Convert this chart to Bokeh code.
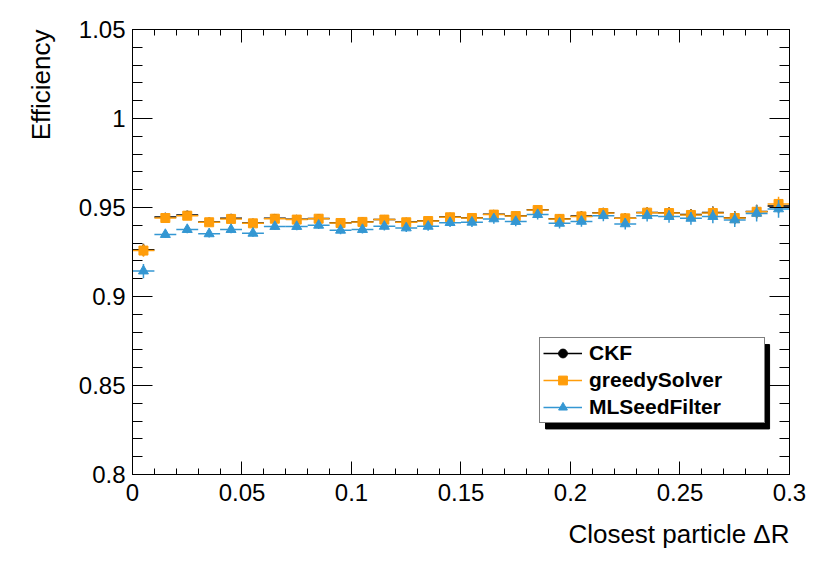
from bokeh.plotting import figure
from bokeh.models import (ColumnDataSource, LinearAxis, SingleIntervalTicker, CustomJSTickFormatter,
                          Legend, LegendItem, Title, BoxAnnotation, Range1d)
from bokeh.embed import file_html
from bokeh.resources import INLINE

# ---------------- data ----------------
bin_edges = [0.00, 0.01, 0.02, 0.03, 0.04, 0.05, 0.06, 0.07, 0.08, 0.09, 0.10,
             0.11, 0.12, 0.13, 0.14, 0.15, 0.16, 0.17, 0.18, 0.19, 0.20,
             0.21, 0.22, 0.23, 0.24, 0.25, 0.26, 0.27, 0.28, 0.29, 0.30]

ckf_eff = [0.9262, 0.9446, 0.9458, 0.9419, 0.9440, 0.9413, 0.9439, 0.9434, 0.9438, 0.9414,
           0.9420, 0.9433, 0.9418, 0.9425, 0.9446, 0.9442, 0.9462, 0.9453, 0.9488, 0.9437,
           0.9452, 0.9471, 0.9440, 0.9472, 0.9471, 0.9460, 0.9472, 0.9443, 0.9478, 0.9508]
ckf_err = [0.0035, 0.0018, 0.0018, 0.0018, 0.0018, 0.0018, 0.0018, 0.0018, 0.0019, 0.0019,
           0.0020, 0.0020, 0.0021, 0.0021, 0.0022, 0.0023, 0.0024, 0.0025, 0.0025, 0.0026,
           0.0027, 0.0028, 0.0029, 0.0030, 0.0031, 0.0032, 0.0034, 0.0036, 0.0038, 0.0040]

greedy_eff = [0.9258, 0.9441, 0.9454, 0.9417, 0.9436, 0.9411, 0.9437, 0.9432, 0.9437, 0.9413,
              0.9419, 0.9432, 0.9417, 0.9424, 0.9445, 0.9441, 0.9460, 0.9452, 0.9486, 0.9436,
              0.9450, 0.9469, 0.9439, 0.9471, 0.9469, 0.9458, 0.9469, 0.9441, 0.9476, 0.9520]
greedy_err = [0.0035, 0.0018, 0.0018, 0.0018, 0.0018, 0.0018, 0.0018, 0.0018, 0.0019, 0.0019,
              0.0020, 0.0020, 0.0021, 0.0021, 0.0022, 0.0023, 0.0024, 0.0025, 0.0025, 0.0026,
              0.0027, 0.0028, 0.0029, 0.0030, 0.0031, 0.0032, 0.0034, 0.0036, 0.0038, 0.0040]

ml_eff = [0.9143, 0.9348, 0.9376, 0.9352, 0.9376, 0.9355, 0.9393, 0.9393, 0.9400, 0.9372,
          0.9376, 0.9394, 0.9385, 0.9394, 0.9415, 0.9417, 0.9436, 0.9421, 0.9460, 0.9411,
          0.9422, 0.9454, 0.9408, 0.9454, 0.9449, 0.9439, 0.9449, 0.9430, 0.9467, 0.9492]
ml_err = [0.0040, 0.0020, 0.0020, 0.0020, 0.0020, 0.0020, 0.0020, 0.0021, 0.0021, 0.0022,
          0.0022, 0.0023, 0.0023, 0.0024, 0.0025, 0.0026, 0.0027, 0.0027, 0.0028, 0.0029,
          0.0030, 0.0031, 0.0032, 0.0033, 0.0035, 0.0036, 0.0038, 0.0040, 0.0045, 0.0050]

series_names = ["CKF", "greedySolver", "MLSeedFilter"]
series_colors = ["#000000", "#ff9d0a", "#3497d3"]
series_markers = ["circle", "square", "triangle"]

x_title = "Closest particle \u0394R"
y_title = "Efficiency"

# ---------------- figure ----------------
FONT = "Liberation Sans"

p = figure(width=822, height=564, x_range=Range1d(0.0, 0.300001), y_range=Range1d(0.8, 1.050001),
           output_backend="svg", toolbar_location=None,
           min_border_left=132, min_border_right=33, min_border_top=29, min_border_bottom=90)
p.grid.grid_line_color = None
p.outline_line_color = "black"
p.outline_line_width = 1
p.background_fill_color = "white"
p.border_fill_color = "white"

fmt = CustomJSTickFormatter(code="return parseFloat(tick.toFixed(4)).toString();")
blank = CustomJSTickFormatter(code="return '';")


def style_axis(ax, tick_len, labels=True):
    ax.ticker = SingleIntervalTicker(interval=0.05, num_minor_ticks=5)
    ax.formatter = fmt if labels else blank
    ax.major_tick_in = tick_len
    ax.major_tick_out = 0
    ax.minor_tick_in = tick_len // 2
    ax.minor_tick_out = 0
    ax.axis_line_color = "black"
    ax.major_tick_line_color = "black"
    ax.minor_tick_line_color = "black"
    ax.major_label_text_font = FONT
    ax.major_label_text_font_size = "24px"
    ax.major_label_text_color = "black"
    ax.major_label_text_font_style = "normal"


xax = p.xaxis[0]
yax = p.yaxis[0]
style_axis(xax, 13)
style_axis(yax, 20)
xax.major_label_standoff = 9
yax.major_label_standoff = 7

top_ax = LinearAxis()
style_axis(top_ax, 13, labels=False)
right_ax = LinearAxis()
style_axis(right_ax, 20, labels=False)
p.add_layout(top_ax, "above")
p.add_layout(right_ax, "right")

# ---------------- data glyphs ----------------
lo = bin_edges[:-1]
hi = bin_edges[1:]
centers = [(a + b) / 2 for a, b in zip(lo, hi)]

legend_items = []
for name, eff, err, col, mk in zip(series_names, [ckf_eff, greedy_eff, ml_eff],
                                   [ckf_err, greedy_err, ml_err],
                                   series_colors, series_markers):
    src = ColumnDataSource(dict(
        x=centers, lo=lo, hi=hi, y=eff,
        ylo=[v - e for v, e in zip(eff, err)],
        yhi=[v + e for v, e in zip(eff, err)],
    ))
    h = p.segment(x0="lo", x1="hi", y0="y", y1="y", source=src, line_color=col, line_width=1.5)
    v = p.segment(x0="x", x1="x", y0="ylo", y1="yhi", source=src, line_color=col, line_width=1.5)
    size = 8 if mk == "circle" else (9 if mk == "square" else 10)
    m = p.scatter(x="x", y="y", source=src, marker=mk, size=size,
                  fill_color=col, line_color=col, line_width=1)
    legend_items.append(LegendItem(label=name, renderers=[h, m]))

# ---------------- legend ----------------
shadow = BoxAnnotation(left=0.1886, right=0.2909, top=0.8730, bottom=0.8256,
                       fill_color="black", fill_alpha=1.0, line_color="black",
                       line_alpha=1.0, level="underlay")
p.add_layout(shadow)

legend = Legend(items=legend_items, location=(407, 51))
legend.border_line_color = "black"
legend.border_line_width = 1
legend.background_fill_color = "white"
legend.background_fill_alpha = 1.0
legend.label_text_font = FONT
legend.label_text_font_style = "bold"
legend.label_text_font_size = "21px"
legend.label_text_color = "black"
legend.glyph_width = 39
legend.glyph_height = 22
legend.label_height = 20
legend.label_width = 172
legend.label_standoff = 7
legend.padding = 3
legend.spacing = 3
legend.margin = 0
p.add_layout(legend, "center")

# ---------------- titles ----------------
p.add_layout(Title(text=x_title, align="right", text_font=FONT, text_font_size="26px",
                   text_font_style="normal", text_color="black", standoff=27), "below")
p.add_layout(Title(text=y_title, align="right", text_font=FONT, text_font_size="26px",
                   text_font_style="normal", text_color="black", standoff=40), "left")

open("out.html", "w").write(file_html(p, INLINE))
